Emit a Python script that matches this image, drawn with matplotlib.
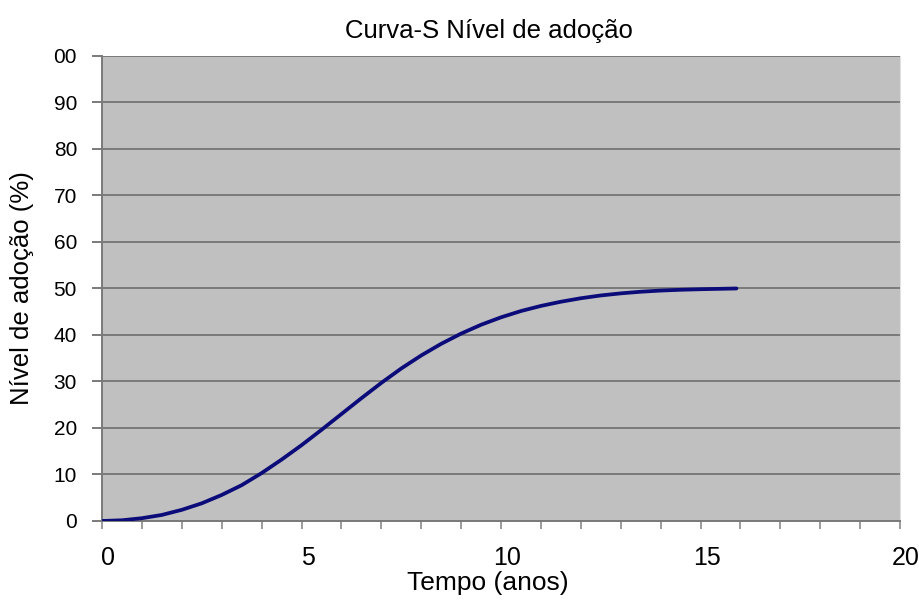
import matplotlib.pyplot as plt
from matplotlib.ticker import MultipleLocator
from matplotlib.transforms import ScaledTranslation

plt.rcParams["font.family"] = ["Liberation Sans", "DejaVu Sans"]

# curva
tempo = [0, 0.5, 1, 1.5, 2, 2.5, 3, 3.5, 4, 4.5, 5, 5.5, 6, 6.5, 7, 7.5,
         8, 8.5, 9, 9.5, 10, 10.5, 11, 11.5, 12, 12.5, 13, 13.5, 14, 14.5,
         15, 15.5, 15.9]
adocao = [0, 0.15, 0.6, 1.3, 2.4, 3.8, 5.6, 7.7, 10.3, 13.2, 16.3, 19.6,
          23.0, 26.4, 29.7, 32.8, 35.6, 38.1, 40.3, 42.2, 43.8, 45.15, 46.25,
          47.15, 47.9, 48.5, 48.95, 49.3, 49.55, 49.72, 49.84, 49.93, 50.0]

y_ticks = [0, 10, 20, 30, 40, 50, 60, 70, 80, 90, 100]
y_labels = ["0", "10", "20", "30", "40", "50", "60", "70", "80", "90", "00"]
x_ticks = [0, 5, 10, 15, 20]

fig = plt.figure(figsize=(9.2, 6), dpi=100)
ax = fig.add_axes([0.1109, 0.1317, 0.8674, 0.775])
ax.set_facecolor("#c0c0c0")

ax.plot(tempo, adocao, color="#0b0b7a", lw=2.7, solid_capstyle="round",
        solid_joinstyle="round", zorder=3)

ax.set_xlim(0, 20)
ax.set_ylim(0, 100)
ax.set_yticks(y_ticks)
ax.set_yticklabels(y_labels)
ax.set_xticks(x_ticks)
ax.xaxis.set_minor_locator(MultipleLocator(1))
ax.yaxis.grid(True, color="#7a7a7a", lw=1.4)
ax.set_axisbelow(True)

ax.tick_params(axis="y", length=7, width=1.4, color="#7a7a7a", pad=11, labelsize=15)
ax.tick_params(axis="x", which="both", length=6, width=1.2, color="#8a8a8a",
               pad=12, labelsize=18)

# rótulos do eixo x ligeiramente deslocados para a direita
shift = ScaledTranslation(6 / 100, 0, fig.dpi_scale_trans)
for lbl in ax.get_xticklabels():
    lbl.set_transform(lbl.get_transform() + shift)

for s in ["left", "bottom"]:
    ax.spines[s].set_color("#7a7a7a")
    ax.spines[s].set_linewidth(1.4)
ax.spines["top"].set_visible(False)
ax.spines["right"].set_color("#e0e0e0")

ax.set_title("Curva-S Nível de adoção", fontsize=18.5, pad=13, x=0.485)
ax.set_xlabel("Tempo (anos)", fontsize=19, va="center")
ax.xaxis.set_label_coords(0.4837, -0.1333)
ax.set_ylabel("Nível de adoção (%)", fontsize=18.5, labelpad=14)

fig.savefig("out.png", dpi=100)
